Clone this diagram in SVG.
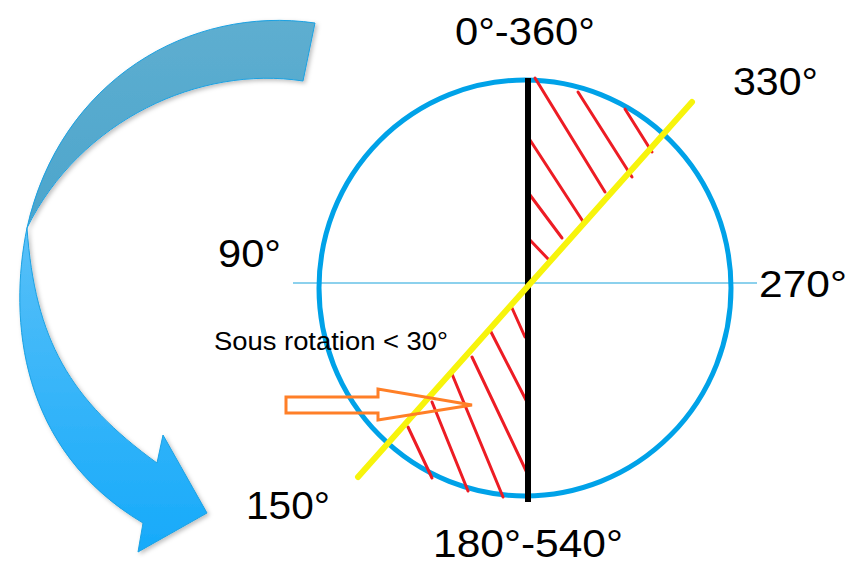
<svg xmlns="http://www.w3.org/2000/svg" width="849" height="566" viewBox="0 0 849 566">
  <style>
    .lbl { font-family: "Liberation Sans", Arial, sans-serif; fill: #000; }
    .hatch { stroke: #ed1c24; stroke-width: 3; stroke-linecap: round; fill: none; }
  </style>
  <defs>
    <linearGradient id="gTop" x1="0" y1="0" x2="0" y2="1">
      <stop offset="0" stop-color="#5eaed0"/>
      <stop offset="1" stop-color="#4ca5cc"/>
    </linearGradient>
    <linearGradient id="gBot" x1="0" y1="0" x2="0" y2="1">
      <stop offset="0" stop-color="#58c0f8"/>
      <stop offset="1" stop-color="#16aafa"/>
    </linearGradient>
    <filter id="sh" x="-10%" y="-10%" width="130%" height="130%">
      <feDropShadow dx="2" dy="2" stdDeviation="2" flood-color="#000" flood-opacity="0.25"/>
    </filter>
  </defs>

  <g id="rotation-arrow" filter="url(#sh)">
    <path d="M315,23 C190,5 60,80 27,228 C80,120 200,65 303,81 Z" fill="url(#gTop)" stroke="#1ba1e2" stroke-width="1"/>
    <path d="M27,228 C8,320 20,450 143,523 L138,552 L207,513 L163,435 L157,463 C70,400 35,340 27,228 Z" fill="url(#gBot)" stroke="#1ba1e2" stroke-width="1"/>
  </g>

  <g id="circle">
    <line x1="293" y1="283" x2="757" y2="283" stroke="#1aa3dc" stroke-width="1.2"/>
    <ellipse cx="525" cy="288" rx="206" ry="208" fill="none" stroke="#00a2e8" stroke-width="5"/>
  </g>

  <g id="hatch-top">
    <line class="hatch" x1="535" y1="78" x2="605" y2="192"/>
    <line class="hatch" x1="578" y1="92" x2="632" y2="177"/>
    <line class="hatch" x1="625" y1="109" x2="652" y2="152"/>
    <line class="hatch" x1="530" y1="140" x2="584" y2="223"/>
    <line class="hatch" x1="527" y1="191" x2="562" y2="238"/>
    <line class="hatch" x1="529" y1="239" x2="550" y2="261"/>
  </g>
  <g id="hatch-bottom">
    <line class="hatch" x1="512" y1="308" x2="525" y2="337"/>
    <line class="hatch" x1="490" y1="330" x2="527" y2="402"/>
    <line class="hatch" x1="472" y1="357" x2="528" y2="475"/>
    <line class="hatch" x1="452" y1="374" x2="503" y2="497"/>
    <line class="hatch" x1="432" y1="402" x2="468" y2="491"/>
    <line class="hatch" x1="408" y1="427" x2="432" y2="478"/>
  </g>

  <g id="axes">
    <line x1="528" y1="78" x2="528" y2="502" stroke="#000" stroke-width="6"/>
    <line x1="692" y1="102" x2="358" y2="477" stroke="#f7f40c" stroke-width="6" stroke-linecap="round"/>
  </g>

  <g id="pointer-arrow">
    <path d="M286,397 L378,397 L378,389 L472,405 L378,420 L378,413 L286,413 Z" fill="none" stroke="#ff7f27" stroke-width="3" stroke-linejoin="miter"/>
  </g>

  <g id="labels">
    <text class="lbl" x="455" y="45" font-size="38" textLength="140" lengthAdjust="spacingAndGlyphs">0°-360°</text>
    <text class="lbl" x="733" y="95" font-size="38" textLength="85" lengthAdjust="spacingAndGlyphs">330°</text>
    <text class="lbl" x="218" y="267" font-size="38" textLength="63" lengthAdjust="spacingAndGlyphs">90°</text>
    <text class="lbl" x="759" y="297" font-size="37" textLength="88" lengthAdjust="spacingAndGlyphs">270°</text>
    <text class="lbl" x="246" y="519" font-size="38" textLength="84" lengthAdjust="spacingAndGlyphs">150°</text>
    <text class="lbl" x="433" y="557" font-size="38" textLength="190" lengthAdjust="spacingAndGlyphs">180°-540°</text>
    <text class="lbl" x="214" y="350" font-size="25" textLength="234" lengthAdjust="spacingAndGlyphs">Sous rotation &lt; 30°</text>
  </g>
</svg>
